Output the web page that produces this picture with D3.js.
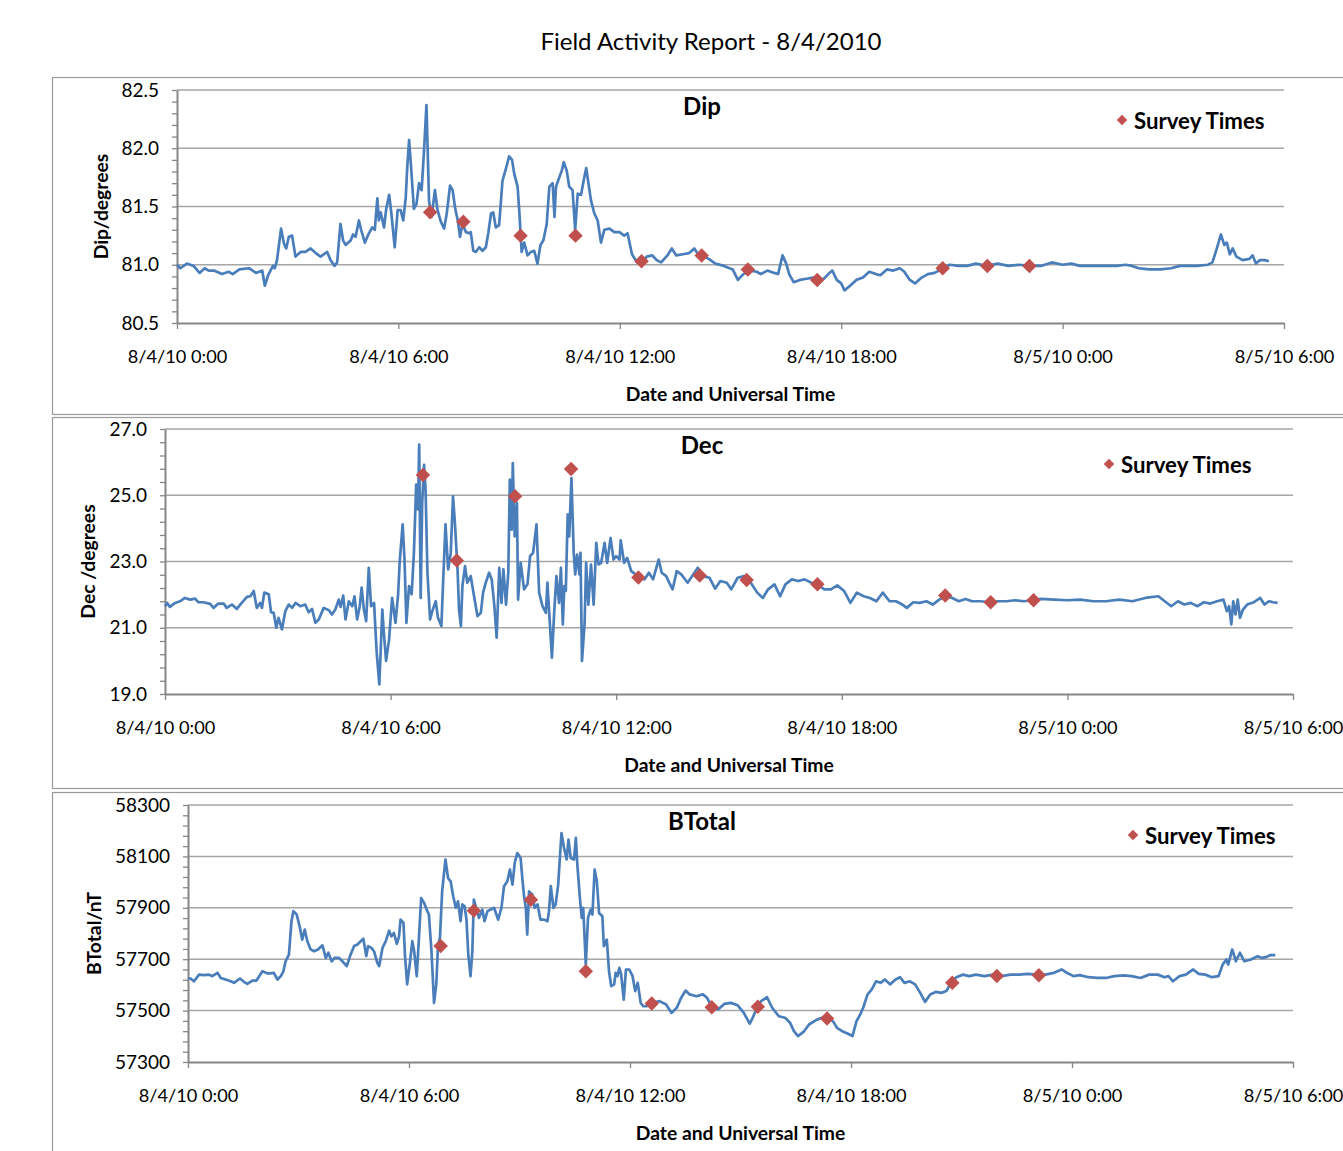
<!DOCTYPE html>
<html>
<head>
<meta charset="utf-8">
<script src="https://cdn.jsdelivr.net/npm/d3@7"></script>
<style>
  body { margin: 0; background: #fff; }
  svg { display: block; font-family: Lato, "Open Sans", sans-serif; }
</style>
</head>
<body>
<div id="chart"></div>
<script>
// readings, [hours since 8/4/10 0:00 UT, value]
const dipTrace = [
  [0,81.0],[0.09,80.97],[0.27,81.01],[0.45,80.99],[0.61,80.93],[0.75,80.97],[0.86,80.95],[1.0,80.95],
  [1.22,80.92],[1.4,80.94],[1.51,80.92],[1.69,80.96],[1.95,80.97],[2.14,80.93],[2.31,80.95],[2.38,80.82],
  [2.47,80.91],[2.6,80.99],[2.65,80.97],[2.71,81.04],[2.82,81.31],[2.9,81.18],[2.96,81.14],[3.03,81.24],
  [3.12,81.25],[3.21,81.07],[3.35,81.11],[3.48,81.11],[3.62,81.14],[3.76,81.10],[3.89,81.07],[4.07,81.11],
  [4.16,81.04],[4.27,80.99],[4.34,81.02],[4.43,81.35],[4.5,81.21],[4.57,81.17],[4.71,81.21],[4.77,81.26],
  [4.84,81.24],[4.93,81.38],[4.99,81.30],[5.09,81.19],[5.2,81.27],[5.29,81.32],[5.36,81.30],[5.43,81.57],
  [5.47,81.38],[5.52,81.45],[5.61,81.32],[5.67,81.48],[5.75,81.60],[5.81,81.44],[5.9,81.15],[5.98,81.47],
  [6.06,81.47],[6.13,81.38],[6.2,81.58],[6.24,81.84],[6.29,82.07],[6.33,81.90],[6.42,81.48],[6.49,81.52],
  [6.56,81.70],[6.63,81.64],[6.7,82.01],[6.76,82.37],[6.83,81.55],[6.9,81.41],[6.99,81.64],[7.06,81.47],
  [7.15,81.37],[7.24,81.31],[7.31,81.44],[7.4,81.68],[7.47,81.64],[7.54,81.48],[7.61,81.38],[7.67,81.24],
  [7.74,81.35],[7.83,81.28],[7.92,81.27],[7.96,81.28],[8.03,81.12],[8.1,81.11],[8.19,81.15],[8.28,81.12],
  [8.37,81.15],[8.44,81.28],[8.51,81.44],[8.57,81.45],[8.64,81.32],[8.73,81.34],[8.82,81.72],[8.9,81.81],
  [8.96,81.88],[9.0,81.93],[9.08,81.90],[9.14,81.78],[9.23,81.67],[9.28,81.44],[9.34,81.11],[9.41,81.19],
  [9.5,81.08],[9.59,81.11],[9.68,81.12],[9.77,81.01],[9.85,81.17],[9.93,81.21],[10.02,81.35],[10.09,81.67],
  [10.18,81.70],[10.23,81.41],[10.27,81.67],[10.36,81.75],[10.43,81.81],[10.48,81.88],[10.56,81.81],[10.63,81.67],
  [10.72,81.64],[10.79,81.30],[10.86,81.61],[10.95,81.60],[11.02,81.72],[11.09,81.83],[11.15,81.70],[11.22,81.55],
  [11.31,81.44],[11.4,81.38],[11.49,81.19],[11.58,81.30],[11.72,81.31],[11.85,81.28],[11.99,81.28],[12.12,81.25],
  [12.21,81.27],[12.33,81.09],[12.47,81.02],[12.61,81.02],[12.73,81.07],[12.88,81.08],[13.0,81.04],[13.12,81.02],
  [13.29,81.08],[13.41,81.14],[13.53,81.08],[13.71,81.09],[13.88,81.10],[14.02,81.14],[14.12,81.09],[14.24,81.08],
  [14.41,81.05],[14.59,81.01],[14.82,80.99],[15.06,80.96],[15.2,80.87],[15.35,80.92],[15.53,80.95],[15.71,80.94],
  [15.82,80.92],[16.0,80.95],[16.18,80.93],[16.29,80.92],[16.41,81.08],[16.51,81.01],[16.59,80.92],[16.71,80.85],
  [16.88,80.87],[17.06,80.88],[17.24,80.89],[17.35,80.87],[17.53,80.88],[17.65,80.92],[17.76,80.95],[17.88,80.87],
  [18.0,80.84],[18.09,80.78],[18.24,80.82],[18.41,80.87],[18.59,80.89],[18.76,80.94],[18.94,80.92],[19.06,80.91],
  [19.24,80.96],[19.41,80.95],[19.59,80.97],[19.71,80.94],[19.86,80.87],[20.0,80.84],[20.18,80.89],[20.35,80.92],
  [20.53,80.93],[20.71,80.96],[20.94,81.0],[21.18,80.99],[21.41,80.99],[21.65,81.01],[21.94,80.99],[22.24,81.01],
  [22.53,80.99],[22.82,81.0],[23.12,80.99],[23.41,80.99],[23.71,81.02],[24.0,81.0],[24.24,81.01],[24.47,80.99],
  [24.82,80.99],[25.18,80.99],[25.47,80.99],[25.71,81.0],[25.88,80.99],[26.06,80.97],[26.35,80.96],[26.65,80.96],
  [26.94,80.97],[27.18,80.99],[27.41,80.99],[27.65,80.99],[27.94,81.0],[28.06,81.02],[28.18,81.14],[28.29,81.26],
  [28.38,81.17],[28.45,81.19],[28.53,81.09],[28.61,81.14],[28.71,81.07],[28.88,81.04],[29.06,81.05],[29.15,81.08],
  [29.24,81.01],[29.35,81.04],[29.47,81.04],[29.59,81.03]
];

const decTrace = [
  [0,21.65],[0.06,21.75],[0.13,21.63],[0.27,21.75],[0.4,21.80],[0.53,21.90],[0.67,21.85],[0.8,21.88],
  [0.89,21.77],[1.02,21.77],[1.2,21.72],[1.29,21.60],[1.42,21.73],[1.56,21.73],[1.64,21.60],[1.78,21.70],
  [1.91,21.57],[2.04,21.75],[2.18,21.93],[2.27,21.95],[2.36,22.11],[2.44,21.60],[2.53,21.75],[2.58,21.60],
  [2.64,22.06],[2.76,22.01],[2.82,21.47],[2.89,21.45],[2.96,21.0],[3.02,21.30],[3.11,20.95],[3.2,21.50],
  [3.29,21.70],[3.38,21.60],[3.47,21.75],[3.6,21.65],[3.73,21.70],[3.82,21.47],[3.91,21.57],[4.0,21.15],
  [4.09,21.25],[4.22,21.60],[4.36,21.53],[4.44,21.40],[4.53,21.55],[4.62,21.85],[4.67,21.63],[4.74,21.97],
  [4.8,21.25],[4.89,21.80],[4.98,21.65],[5.04,21.95],[5.11,21.25],[5.18,21.65],[5.23,22.21],[5.29,21.55],
  [5.35,21.20],[5.42,22.81],[5.48,21.65],[5.56,21.75],[5.63,20.25],[5.7,19.29],[5.78,21.55],[5.82,20.85],
  [5.88,20.0],[5.96,20.65],[6.04,21.90],[6.13,21.15],[6.2,22.01],[6.24,22.96],[6.32,24.12],[6.37,23.06],
  [6.42,21.15],[6.49,22.26],[6.56,22.01],[6.62,23.26],[6.68,25.32],[6.73,24.57],[6.76,26.53],[6.8,21.90],
  [6.84,24.77],[6.89,25.92],[6.93,25.17],[6.98,22.66],[7.05,21.25],[7.11,21.50],[7.2,21.80],[7.26,21.30],
  [7.35,21.05],[7.4,22.46],[7.46,24.12],[7.53,22.76],[7.6,23.26],[7.66,24.97],[7.71,24.17],[7.78,22.76],
  [7.82,21.55],[7.87,21.05],[7.91,22.26],[7.98,22.86],[8.04,22.36],[8.13,22.56],[8.22,21.95],[8.31,21.35],
  [8.4,21.45],[8.46,22.06],[8.53,22.36],[8.62,22.66],[8.69,22.46],[8.76,21.65],[8.82,20.70],[8.89,22.81],
  [8.95,21.75],[9.0,22.76],[9.07,21.70],[9.13,22.66],[9.17,25.47],[9.22,23.96],[9.25,25.97],[9.3,23.76],
  [9.36,24.77],[9.39,21.85],[9.46,22.96],[9.55,22.16],[9.64,22.31],[9.71,23.16],[9.79,23.26],[9.88,24.12],
  [9.95,22.06],[10.04,21.65],[10.13,21.45],[10.17,22.36],[10.24,21.05],[10.29,20.10],[10.35,21.45],[10.41,22.56],
  [10.48,21.75],[10.53,22.81],[10.58,21.10],[10.62,22.26],[10.66,22.11],[10.71,24.42],[10.75,23.76],[10.81,25.52],
  [10.87,23.26],[10.91,22.61],[10.96,23.21],[11.02,22.61],[11.05,23.26],[11.09,20.0],[11.16,21.15],[11.2,22.96],
  [11.26,21.70],[11.33,22.91],[11.4,21.70],[11.47,23.56],[11.53,22.91],[11.6,22.96],[11.69,23.56],[11.76,22.96],
  [11.85,23.71],[11.93,23.06],[12.0,23.16],[12.09,23.06],[12.12,23.64],[12.21,22.96],[12.29,23.11],[12.4,22.71],
  [12.58,22.56],[12.75,22.46],[12.87,22.66],[12.98,22.46],[13.13,23.06],[13.21,22.66],[13.33,22.56],[13.41,22.36],
  [13.5,22.16],[13.61,22.71],[13.73,22.61],[13.9,22.36],[14.02,22.56],[14.17,22.81],[14.31,22.56],[14.48,22.51],
  [14.63,22.18],[14.77,22.41],[14.94,22.36],[15.06,22.16],[15.23,22.51],[15.4,22.56],[15.58,22.36],[15.75,22.06],
  [15.9,21.90],[16.04,22.16],[16.21,22.31],[16.36,21.95],[16.5,22.31],[16.67,22.46],[16.84,22.41],[17.01,22.46],
  [17.19,22.36],[17.36,22.29],[17.54,22.16],[17.71,22.16],[17.88,22.28],[18.06,22.11],[18.23,21.75],[18.4,22.06],
  [18.58,21.95],[18.75,21.90],[18.92,21.80],[19.09,22.06],[19.27,21.80],[19.44,21.80],[19.61,21.70],[19.73,21.60],
  [19.9,21.77],[20.07,21.75],[20.25,21.80],[20.42,21.70],[20.59,21.85],[20.77,21.95],[20.94,21.90],[21.11,21.80],
  [21.29,21.87],[21.46,21.80],[21.69,21.80],[21.92,21.77],[22.15,21.80],[22.38,21.80],[22.61,21.83],[22.84,21.80],
  [23.07,21.83],[23.3,21.87],[23.65,21.85],[24.0,21.83],[24.34,21.85],[24.69,21.80],[25.03,21.80],[25.38,21.85],
  [25.73,21.80],[26.07,21.90],[26.42,21.95],[26.59,21.80],[26.76,21.65],[26.94,21.80],[27.11,21.70],[27.28,21.75],
  [27.46,21.65],[27.63,21.77],[27.8,21.73],[27.98,21.80],[28.15,21.85],[28.24,21.50],[28.3,21.65],[28.36,21.10],
  [28.41,21.80],[28.47,21.40],[28.53,21.85],[28.59,21.30],[28.67,21.55],[28.78,21.70],[28.96,21.77],[29.13,21.90],
  [29.24,21.70],[29.36,21.80],[29.47,21.77],[29.59,21.75]
];

const btotalTrace = [
  [0,57627],[0.07,57625],[0.16,57614],[0.3,57640],[0.43,57638],[0.57,57640],[0.66,57634],[0.8,57647],
  [0.89,57627],[1.02,57621],[1.16,57614],[1.25,57608],[1.41,57625],[1.52,57612],[1.61,57604],[1.75,57617],
  [1.86,57617],[2.02,57653],[2.17,57644],[2.33,57647],[2.43,57621],[2.52,57634],[2.59,57653],[2.65,57692],
  [2.74,57718],[2.81,57848],[2.86,57887],[2.95,57874],[3.04,57822],[3.1,57776],[3.17,57815],[3.24,57770],
  [3.33,57738],[3.42,57731],[3.53,57738],[3.65,57754],[3.74,57705],[3.81,57725],[3.9,57692],[3.98,57705],
  [4.1,57705],[4.19,57692],[4.31,57673],[4.4,57712],[4.51,57751],[4.6,57757],[4.69,57770],[4.76,57780],
  [4.84,57712],[4.89,57751],[4.98,57744],[5.05,57731],[5.14,57686],[5.19,57673],[5.28,57744],[5.37,57770],
  [5.46,57811],[5.52,57789],[5.59,57802],[5.67,57760],[5.73,57789],[5.77,57854],[5.85,57841],[5.89,57718],
  [5.95,57602],[6.03,57692],[6.09,57770],[6.14,57731],[6.21,57634],[6.27,57783],[6.33,57938],[6.41,57919],
  [6.48,57893],[6.54,57874],[6.61,57731],[6.68,57530],[6.74,57602],[6.79,57757],[6.84,57783],[6.9,57964],
  [6.99,58088],[7.06,58016],[7.13,58003],[7.2,57945],[7.27,57900],[7.33,57925],[7.4,57848],[7.45,57913],
  [7.51,57906],[7.56,57854],[7.61,57718],[7.67,57634],[7.72,57731],[7.76,57932],[7.84,57893],[7.9,57861],
  [7.99,57893],[8.05,57848],[8.13,57887],[8.22,57893],[8.31,57900],[8.42,57854],[8.51,57900],[8.58,57984],
  [8.67,58003],[8.74,58049],[8.81,57990],[8.87,58075],[8.94,58113],[9.03,58094],[9.08,58010],[9.12,57951],
  [9.17,57900],[9.21,57796],[9.26,57964],[9.35,57951],[9.41,57900],[9.49,57913],[9.57,57854],[9.67,57854],
  [9.76,57848],[9.8,57887],[9.85,57984],[9.92,57900],[9.98,57913],[10.05,57990],[10.14,58191],[10.21,58133],
  [10.28,58088],[10.33,58165],[10.39,58094],[10.48,58088],[10.53,58172],[10.57,58068],[10.64,57938],[10.69,57861],
  [10.73,57900],[10.8,57679],[10.86,57861],[10.93,57893],[10.98,57874],[11.04,58049],[11.1,58003],[11.16,57880],
  [11.25,57867],[11.29,57751],[11.37,57776],[11.43,57653],[11.49,57595],[11.57,57602],[11.61,57647],[11.66,57634],
  [11.71,57666],[11.76,57640],[11.83,57543],[11.89,57660],[11.98,57660],[12.07,57634],[12.14,57576],[12.21,57608],
  [12.29,57530],[12.36,57517],[12.45,57517],[12.62,57530],[12.8,57537],[12.98,57524],[13.13,57491],[13.27,57511],
  [13.39,57550],[13.51,57578],[13.62,57563],[13.8,57556],[13.98,57563],[14.09,57550],[14.24,57511],[14.39,57504],
  [14.56,57526],[14.74,57530],[14.92,57521],[15.09,57491],[15.25,57449],[15.33,57472],[15.45,57511],[15.56,57537],
  [15.72,57552],[15.86,57511],[16.04,57478],[16.21,57472],[16.35,57452],[16.45,57420],[16.56,57401],[16.71,57417],
  [16.86,57446],[17.04,57462],[17.21,57472],[17.36,57469],[17.51,57459],[17.62,57433],[17.76,57420],[17.92,57410],
  [18.04,57401],[18.15,57459],[18.25,57485],[18.33,57511],[18.45,57563],[18.56,57582],[18.68,57614],[18.8,57608],
  [18.92,57621],[19.06,57602],[19.21,57621],[19.33,57630],[19.45,57608],[19.6,57614],[19.74,57602],[19.88,57569],
  [20.01,57534],[20.15,57563],[20.31,57573],[20.45,57569],[20.59,57576],[20.71,57608],[20.86,57630],[21.04,57640],
  [21.21,57634],[21.39,57640],[21.62,57634],[21.86,57640],[22.09,57634],[22.33,57640],[22.56,57640],[22.8,57643],
  [23.04,57640],[23.27,57640],[23.51,57647],[23.72,57660],[23.86,57647],[24.04,57634],[24.21,57638],[24.45,57630],
  [24.68,57627],[24.92,57627],[25.15,57634],[25.39,57637],[25.62,57634],[25.86,57627],[26.09,57640],[26.33,57640],
  [26.51,57630],[26.62,57634],[26.74,57614],[26.92,57634],[27.09,57640],[27.29,57660],[27.44,57643],[27.62,57640],
  [27.8,57630],[27.98,57634],[28.09,57679],[28.19,57699],[28.24,57679],[28.35,57738],[28.45,57692],[28.56,57725],
  [28.68,57692],[28.86,57699],[29.04,57712],[29.15,57705],[29.27,57708],[29.39,57716],[29.52,57716]
];

// survey times (hours) and the reading at each one
const surveyHours = [6.86, 7.76, 9.31, 10.80, 12.59, 14.22, 15.47, 17.35, 20.75, 21.96, 23.10];
const dipSurvey = [81.45, 81.37, 81.25, 81.25, 81.03, 81.08, 80.96, 80.87, 80.97, 80.99, 80.99];
const decSurvey = [25.61, 23.03, 24.97, 25.79, 22.52, 22.58, 22.44, 22.31, 21.97, 21.77, 21.83];
const btotalSurvey = [57751, 57889, 57931, 57653, 57528, 57513, 57515, 57469, 57608, 57635, 57638];

const xTickHours = [0, 6, 12, 18, 24, 30];

const W = 1343, H = 1151;
const start = Date.UTC(2010, 7, 4);
const toDate = h => new Date(start + h * 3600e3);
const fmtTime = d3.utcFormat("%-m/%-d/%y %-H:%M");

const svg = d3.select("#chart").append("svg")
  .attr("width", W).attr("height", H);

svg.append("text")
  .attr("x", 711).attr("y", 40)
  .attr("text-anchor", "middle").attr("dominant-baseline", "central")
  .attr("font-size", 24).attr("fill", "#000")
  .text("Field Activity Report - 8/4/2010");

const panels = [
  { name: "Dip", ylabel: "Dip/degrees", trace: dipTrace, survey: dipSurvey,
    frameTop: 77, frameBottom: 414, left: 177, right: 1284, top: 90, bottom: 323,
    yLo: 80.5, yHi: 82.5, major: 0.5, fmt: d3.format(".1f"), ylabelX: 100, legendX: 1122, legendDy: 30 },
  { name: "Dec", ylabel: "Dec /degrees", trace: decTrace, survey: decSurvey,
    frameTop: 417, frameBottom: 788, left: 165, right: 1293, top: 429, bottom: 694,
    yLo: 19, yHi: 27, major: 2, fmt: d3.format(".1f"), ylabelX: 87, legendX: 1109, legendDy: 35 },
  { name: "BTotal", ylabel: "BTotal/nT", trace: btotalTrace, survey: btotalSurvey,
    frameTop: 792, frameBottom: 1200, left: 188, right: 1293, top: 805, bottom: 1062,
    yLo: 57300, yHi: 58300, major: 200, fmt: d3.format("d"), ylabelX: 93, legendX: 1133, legendDy: 30 }
];

panels.forEach(drawPanel);

function drawPanel(p) {
  const g = svg.append("g");

  // chart frame, runs off the right edge like the original
  g.append("rect")
    .attr("x", 52.5).attr("y", p.frameTop + 0.5)
    .attr("width", 1400).attr("height", p.frameBottom - p.frameTop)
    .attr("fill", "none").attr("stroke", "#9a9a9a").attr("stroke-width", 1.2);

  const x = d3.scaleUtc()
    .domain([toDate(0), toDate(30)])
    .range([p.left, p.right]);
  const y = d3.scaleLinear()
    .domain([p.yLo, p.yHi])
    .range([p.bottom, p.top]);

  const nMajor = Math.round((p.yHi - p.yLo) / p.major);
  const majors = d3.range(nMajor + 1).map(i => p.yLo + i * p.major);
  const minors = d3.range(nMajor * 5 + 1).map(i => p.yLo + i * p.major / 5);

  // gridlines
  g.append("g").selectAll("line")
    .data(majors.slice(1))
    .join("line")
      .attr("x1", p.left).attr("x2", p.right)
      .attr("y1", d => y(d)).attr("y2", d => y(d))
      .attr("stroke", "#a6a6a6").attr("stroke-width", 1.5);

  // y axis with minor ticks
  const yAxis = g.append("g")
    .attr("transform", `translate(${p.left},0)`)
    .call(d3.axisLeft(y)
      .tickValues(minors)
      .tickSize(5).tickSizeOuter(0).tickPadding(13)
      .tickFormat((d, i) => i % 5 === 0 ? p.fmt(d) : ""));
  yAxis.selectAll("text").attr("font-size", 19).attr("fill", "#000").attr("font-family", "Lato");

  // x axis
  const xAxis = g.append("g")
    .attr("transform", `translate(0,${p.bottom})`)
    .call(d3.axisBottom(x)
      .tickValues(xTickHours.map(toDate))
      .tickSize(6).tickSizeOuter(0).tickPadding(21)
      .tickFormat(fmtTime));
  xAxis.selectAll("text").attr("font-size", 18.2).attr("fill", "#000").attr("font-family", "Lato");

  [yAxis, xAxis].forEach(a => {
    a.select(".domain").attr("stroke", "#868686").attr("stroke-width", 2);
    a.selectAll(".tick line").attr("stroke", "#868686").attr("stroke-width", 1.3);
  });

  // axis titles
  g.append("text")
    .attr("x", (p.left + p.right) / 2).attr("y", p.bottom + 70)
    .attr("text-anchor", "middle").attr("dominant-baseline", "central")
    .attr("font-size", 19.3).attr("font-weight", 700)
    .text("Date and Universal Time");

  g.append("text")
    .attr("transform", `translate(${p.ylabelX},${(p.top + p.bottom) / 2}) rotate(-90)`)
    .attr("text-anchor", "middle").attr("dominant-baseline", "central")
    .attr("font-size", 19.3).attr("font-weight", 700)
    .text(p.ylabel);

  // chart title
  g.append("text")
    .attr("x", 702).attr("y", p.top + 15)
    .attr("text-anchor", "middle").attr("dominant-baseline", "central")
    .attr("font-size", 24).attr("font-weight", 700)
    .text(p.name);

  // data line
  const line = d3.line()
    .x(d => x(toDate(d[0])))
    .y(d => y(d[1]));

  g.append("path")
    .datum(p.trace)
    .attr("d", line)
    .attr("fill", "none")
    .attr("stroke", "#4a7ebb")
    .attr("stroke-width", 2.7)
    .attr("stroke-linejoin", "round");

  // survey markers
  const diamond = d3.symbol(d3.symbolSquare, 105);
  g.append("g").selectAll("path")
    .data(surveyHours.map((h, i) => [h, p.survey[i]]))
    .join("path")
      .attr("d", diamond)
      .attr("transform", d => `translate(${x(toDate(d[0]))},${y(d[1])}) rotate(45)`)
      .attr("fill", "#c0504d");

  // legend
  const ly = p.top + p.legendDy;
  g.append("path")
    .attr("d", d3.symbol(d3.symbolSquare, 55))
    .attr("transform", `translate(${p.legendX},${ly}) rotate(45)`)
    .attr("fill", "#c0504d");
  g.append("text")
    .attr("x", p.legendX + 12).attr("y", ly)
    .attr("dominant-baseline", "central")
    .attr("font-size", 22.2).attr("font-weight", 700)
    .text("Survey Times");
}
</script>
</body>
</html>
